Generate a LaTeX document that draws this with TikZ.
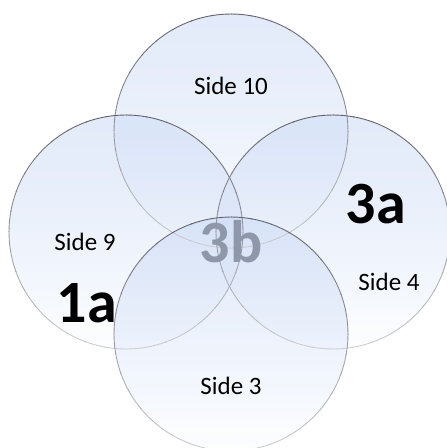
\documentclass[tikz,border=0pt]{standalone}
\usepackage{fontspec}
\setmainfont{Carlito}
\definecolor{circtop}{RGB}{200,216,245}
\definecolor{circbot}{RGB}{250,252,255}
\definecolor{rimdark}{RGB}{110,110,116}
\definecolor{rimlight}{RGB}{215,218,224}
\definecolor{threeb}{RGB}{142,152,170}
\tikzset{
  sidelbl/.style={font=\fontsize{25}{30}\selectfont, text=black, anchor=base, inner sep=0pt},
  biglbl/.style={font=\fontsize{60}{70}\selectfont\bfseries, text=black, anchor=base, inner sep=0pt},
}
\begin{document}
\begin{tikzpicture}[x=1pt,y=-1pt]
\useasboundingbox (0,0) rectangle (447,448);
% circles
\coordinate (ctop) at (231,131);
\coordinate (cleft) at (126,232);
\coordinate (cright) at (333,232);
\coordinate (cbot) at (231,334);
\foreach \c in {ctop,cleft,cright,cbot}{
  \begin{scope}[transparency group, opacity=0.5]
    \clip (\c) circle (117);
    \foreach \i in {0,...,29}{
      \pgfmathsetmacro{\p}{100-100*(\i/29)^1.4}
      \fill[color=circtop!\p!circbot] ([shift={(-120,-117+\i*7.8)}]\c) rectangle ([shift={(120,-117+\i*7.8+8.6)}]\c);
    }
  \end{scope}
}
\foreach \c in {ctop,cleft,cright,cbot}{
  \foreach \a in {0,10,...,350}{
    \pgfmathsetmacro{\p}{60-50*sin(\a+5)}
    \draw[line width=0.9pt, color=rimdark!\p!rimlight] ([shift={(\a:117)}]\c) arc[start angle=\a, end angle=\a+10.5, radius=117];
  }
}
% labels
\node[biglbl, text=threeb] (l3b) at (231,262) {3b};
\node[sidelbl] (s10) at (231,94) {Side 10};
\node[sidelbl] (s9) at (85,250) {Side 9};
\node[sidelbl] (s4) at (389,290) {Side 4};
\node[sidelbl] (s3) at (231,394) {Side 3};
\node[biglbl] (l1a) at (87,322) {1a};
\node[biglbl] (l3a) at (376,223) {3a};
\end{tikzpicture}
\end{document}
